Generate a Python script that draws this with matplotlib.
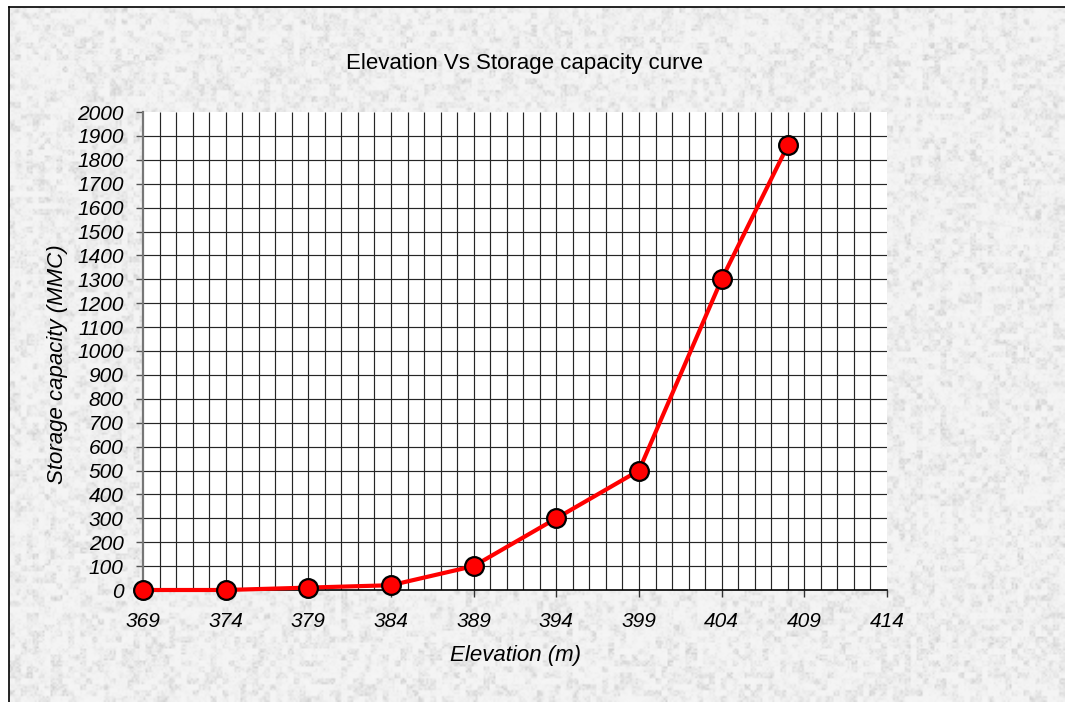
import numpy as np
import matplotlib.pyplot as plt
from matplotlib.lines import Line2D

plt.rcParams['font.family'] = ['Liberation Sans', 'DejaVu Sans']

# elevation (m) vs storage capacity (MMC)
elevation = [369, 374, 379, 384, 389, 394, 399, 404, 408]
storage = [0, 0, 10, 20, 100, 300, 500, 1300, 1860]

x_ticks = [369, 374, 379, 384, 389, 394, 399, 404, 409, 414]
y_ticks = list(range(0, 2001, 100))

W, H = 1065, 702
fig = plt.figure(figsize=(W / 100, H / 100), dpi=100)
fig.patch.set_facecolor('white')

# granite-like backdrop inside the frame
bg = fig.add_axes([0, 0, 1, 1], zorder=-10)
bg.set_xlim(0, 1)
bg.set_ylim(0, 1)
bg.axis('off')
rng = np.random.default_rng(7)
coarse = np.kron(rng.random((117, 178)), np.ones((3, 3)))
fine = rng.random(coarse.shape)
tex = 0.6 * coarse + 0.4 * fine
shade = 0.96 - 0.15 * tex ** 3
bg.imshow(shade, cmap='gray', vmin=0, vmax=1, aspect='auto',
          interpolation='bilinear', extent=[9 / W, 1, 0, 1 - 7 / H])

# frame lines (left and top only)
fig.add_artist(Line2D([8.5 / W, 8.5 / W], [0, 1 - 6.5 / H], transform=fig.transFigure,
                      color='black', lw=1.2))
fig.add_artist(Line2D([8.5 / W, 1], [1 - 6.5 / H, 1 - 6.5 / H], transform=fig.transFigure,
                      color='black', lw=1.2))

ax = fig.add_axes([143 / W, 112 / H, 744 / W, 478 / H])
ax.set_facecolor('white')
ax.set_xlim(369, 414)
ax.set_ylim(0, 2000)

# fine graph-paper grid
ax.vlines(np.arange(370, 414), 0, 2000, colors='#262626', lw=0.85, zorder=1)
ax.hlines(np.arange(100, 2000, 100), 369, 414, colors='#262626', lw=0.85, zorder=1)

ax.plot(elevation, storage, color='#ff0000', lw=3, marker='o', ms=13.5,
        mfc='#ff0000', mec='black', mew=1.6, clip_on=False, zorder=5)

for side in ('top', 'right'):
    ax.spines[side].set_visible(False)
ax.spines['left'].set_color('#777777')
ax.spines['left'].set_linewidth(1.6)
ax.spines['bottom'].set_color('black')
ax.spines['bottom'].set_linewidth(1.2)

ax.set_xticks(x_ticks)
ax.set_xticklabels([str(v) for v in x_ticks], fontsize=15, style='italic')
ax.set_yticks(y_ticks)
ax.set_yticklabels([str(v) for v in y_ticks], fontsize=15, style='italic')
ax.tick_params(axis='x', direction='out', length=5, width=1, color='#333333', pad=11)
ax.tick_params(axis='y', direction='out', length=5, width=1, color='#555555', pad=9)

fig.text(524 / W, 1 - 64 / H, 'Elevation Vs Storage capacity curve',
         ha='center', va='center', fontsize=16)
fig.text(515 / W, 1 - 656 / H, 'Elevation (m)', ha='center', va='center',
         fontsize=16, style='italic')
fig.text(57 / W, 1 - 364 / H, 'Storage capacity (MMC)', ha='center', va='center',
         fontsize=16, style='italic', rotation=90)

fig.savefig('out.png', dpi=100, facecolor='white')
